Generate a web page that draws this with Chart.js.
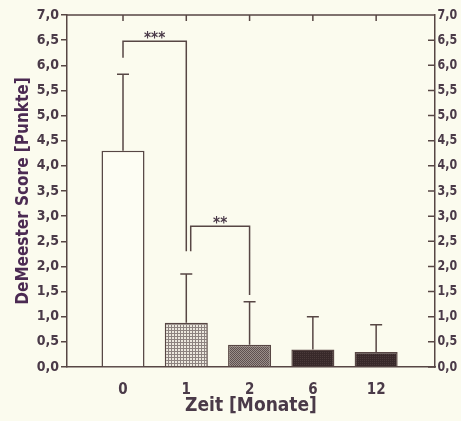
<!DOCTYPE html>
<html>
<head>
<meta charset="utf-8">
<script src="https://cdn.jsdelivr.net/npm/chart.js@4.4.1/dist/chart.umd.min.js"></script>
<style>
  html, body { margin: 0; padding: 0; background: #fbfbee; }
  #wrap { width: 461px; height: 421px; }
</style>
</head>
<body>
<div id="wrap"><canvas id="bar-chart"></canvas></div>
<script>
const months = ['0', '1', '2', '6', '12'];
const meanScore = [4.3, 0.88, 0.44, 0.35, 0.3];
const sdUpper = [5.82, 1.85, 1.3, 1.0, 0.84];
const yTicks = [0, 0.5, 1, 1.5, 2, 2.5, 3, 3.5, 4, 4.5, 5, 5.5, 6, 6.5, 7];

// significance brackets (data units)
const sigLabels = ['***', '**'];
const sigFrom = [0, 1.07];
const sigTo = [1, 2];
const sigTop = [6.48, 2.8];
const sigLeftEnd = [6.15, 2.3];
const sigRightEnd = [2.3, 1.43];

const lineColor = '#574644';
const textColor = '#4a3a48';
const fontFam = "'DejaVu Sans Condensed', 'Roboto', sans-serif";

function makePattern(kind) {
  const c = document.createElement('canvas');
  const g = c.getContext('2d');
  if (kind === 'grid') {
    c.width = 3; c.height = 3;
    g.fillStyle = '#ece8de'; g.fillRect(0, 0, 3, 3);
    g.fillStyle = '#8d8380';
    g.fillRect(0, 0, 3, 1); g.fillRect(0, 0, 1, 3);
  } else if (kind === 'dots') {
    c.width = 2; c.height = 2;
    g.fillStyle = '#9a8f8a'; g.fillRect(0, 0, 2, 2);
    g.fillStyle = '#5e5050';
    g.fillRect(0, 0, 1, 1); g.fillRect(1, 1, 1, 1);
  } else {
    c.width = 2; c.height = 2;
    g.fillStyle = '#38292a'; g.fillRect(0, 0, 2, 2);
    g.fillStyle = '#4a3a3a'; g.fillRect(0, 0, 1, 1);
  }
  return g.createPattern(c, 'repeat');
}

const fills = ['#fdfdf3', makePattern('grid'), makePattern('dots'), makePattern('dark'), makePattern('dark')];

const fmt = v => Number(v).toFixed(1).replace('.', ',');

const extras = {
  id: 'extras',
  afterDatasetsDraw(chart) {
    const ctx = chart.ctx;
    const x = chart.scales.x, y = chart.scales.y;
    const area = chart.chartArea;
    ctx.save();
    ctx.strokeStyle = lineColor;
    ctx.lineWidth = 1.5;

    // error bars
    meanScore.forEach((m, i) => {
      const px = x.getPixelForValue(i);
      ctx.beginPath();
      ctx.moveTo(px, y.getPixelForValue(m));
      ctx.lineTo(px, y.getPixelForValue(sdUpper[i]));
      ctx.moveTo(px - 6, y.getPixelForValue(sdUpper[i]));
      ctx.lineTo(px + 6, y.getPixelForValue(sdUpper[i]));
      ctx.stroke();
    });

    // top frame line with ticks
    ctx.beginPath();
    ctx.moveTo(area.left, area.top);
    ctx.lineTo(area.right, area.top);
    months.forEach((m, i) => {
      const px = x.getPixelForValue(i);
      ctx.moveTo(px, area.top);
      ctx.lineTo(px, area.top + 6);
    });
    // right axis inward ticks
    yTicks.forEach(v => {
      const py = y.getPixelForValue(v);
      ctx.moveTo(area.right - 7, py);
      ctx.lineTo(area.right, py);
    });
    ctx.stroke();

    // right axis labels, slightly condensed to fit
    ctx.fillStyle = textColor;
    ctx.font = 'bold 14px ' + fontFam;
    ctx.textAlign = 'left';
    ctx.textBaseline = 'middle';
    yTicks.forEach(v => {
      const py = y.getPixelForValue(v);
      ctx.save();
      ctx.translate(area.right + 2.5, py);
      ctx.scale(0.88, 1);
      ctx.fillText(fmt(v), 0, 0);
      ctx.restore();
    });

    // significance brackets
    ctx.font = 'bold 15px ' + fontFam;
    ctx.textAlign = 'center';
    ctx.textBaseline = 'bottom';
    sigLabels.forEach((lab, i) => {
      const x1 = x.getPixelForValue(sigFrom[i]);
      const x2 = x.getPixelForValue(sigTo[i]);
      const yt = y.getPixelForValue(sigTop[i]);
      ctx.beginPath();
      ctx.moveTo(x1, y.getPixelForValue(sigLeftEnd[i]));
      ctx.lineTo(x1, yt);
      ctx.lineTo(x2, yt);
      ctx.lineTo(x2, y.getPixelForValue(sigRightEnd[i]));
      ctx.stroke();
      ctx.fillText(lab, (x1 + x2) / 2, yt + 5);
    });
    ctx.restore();
  }
};

const ctx = document.getElementById('bar-chart').getContext('2d');

new Chart(ctx, {
  type: 'bar',
  data: {
    datasets: [{
      data: meanScore.map((v, i) => ({ x: i, y: v })),
      backgroundColor: fills,
      borderColor: lineColor,
      borderWidth: 1.5,
      borderSkipped: 'bottom',
      barPercentage: 0.85,
      categoryPercentage: 0.8
    }]
  },
  options: {
    responsive: true,
    maintainAspectRatio: false,
    animation: false,
    layout: { padding: { top: 15, right: 0, left: 0, bottom: 0 } },
    plugins: { legend: { display: false }, tooltip: { enabled: false } },
    scales: {
      x: {
        type: 'linear',
        offset: false,
        min: -0.885,
        max: 4.93,
        afterBuildTicks: s => { s.ticks = months.map((m, i) => ({ value: i })); },
        afterFit: s => { s.height = 54; },
        grid: { display: false },
        border: { color: lineColor, width: 1.5 },
        ticks: {
          color: textColor,
          padding: 6,
          font: { family: fontFam, size: 15, weight: 'bold' },
          callback: v => months[v]
        },
        title: {
          display: true,
          text: 'Zeit [Monate]',
          color: textColor,
          padding: { top: 0 },
          font: { family: fontFam, size: 19, weight: 'bold' }
        }
      },
      y: {
        position: 'left',
        min: 0, max: 7,
        afterBuildTicks: s => { s.ticks = yTicks.map(v => ({ value: v })); },
        afterFit: s => { s.width = 67; },
        grid: { drawOnChartArea: false, drawTicks: true, tickLength: 6, color: lineColor, lineWidth: 1.5 },
        border: { color: lineColor, width: 1.5 },
        ticks: {
          color: textColor,
          padding: 2,
          font: { family: fontFam, size: 14, weight: 'bold' },
          callback: v => fmt(v)
        },
        title: {
          display: true,
          text: 'DeMeester Score [Punkte]',
          color: '#4b2a52',
          padding: { bottom: 0, top: 13 },
          font: { family: fontFam, size: 17, weight: 'bold' }
        }
      },
      y2: {
        position: 'right',
        min: 0, max: 7,
        afterFit: s => { s.width = 26; },
        grid: { display: false },
        border: { color: lineColor, width: 1.5 },
        ticks: { display: false }
      }
    }
  },
  plugins: [extras]
});
</script>
</body>
</html>
